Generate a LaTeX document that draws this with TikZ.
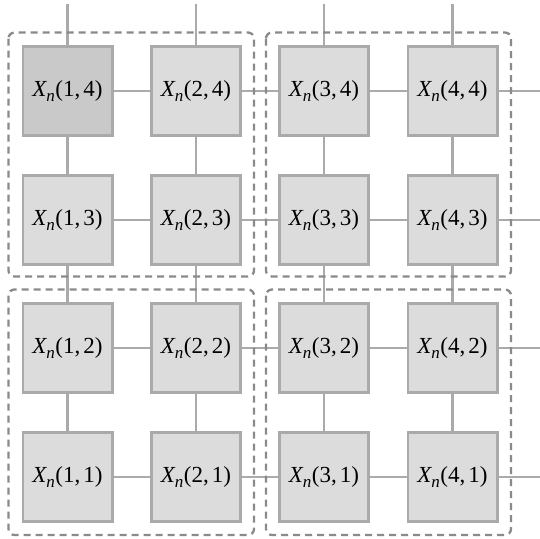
\documentclass[tikz,border=0pt]{standalone}
\usepackage{fontspec}
\setmainfont{Liberation Serif}
\definecolor{cellfill}{RGB}{220,220,220}
\definecolor{cellfilldark}{RGB}{201,201,201}
\definecolor{cellline}{RGB}{170,170,170}
\definecolor{groupline}{RGB}{138,138,138}
\newcommand{\xcell}[2]{\textit{X}\kern-0.8pt\raisebox{-0.25em}{\fontsize{17}{18}\selectfont\textit{n}}\kern0.5pt(#1,\kern3pt#2)}
\begin{document}
\begin{tikzpicture}[x=1pt,y=-1pt,
  cell/.style={draw=cellline, fill=cellfill, line width=2.6pt, minimum width=89.4pt,
    minimum height=89.4pt, inner sep=0pt, font=\fontsize{23}{27}\selectfont},
  link/.style={draw=cellline, line width=2.4pt},
  group/.style={draw=groupline, line width=2.3pt, rounded corners=6pt,
    dash pattern=on 7pt off 5pt}]
\useasboundingbox (0,0) rectangle (540,538);
% grid of cells: columns i=1..4, rows j=1..4 (j=4 on top)
\foreach \i/\x in {1/67.5,2/196,3/324,4/452.5}{
  \foreach \j/\y in {4/91,3/220,2/348,1/477}{
    \node[cell] (c\i\j) at (\x,\y) {\xcell{\i}{\j}};
  }
}
\node[cell, fill=cellfilldark] at (c14) {\xcell{1}{4}};
% free ends of the links leaving the grid
\foreach \i/\x in {1/67.5,2/196,3/324,4/452.5}
  \coordinate (top\i) at (\x,4);
\foreach \j/\y in {4/91,3/220,2/348,1/477}
  \coordinate (right\j) at (540,\y);
% links
\foreach \i in {1,2,3,4}{
  \draw[link] (top\i) -- (c\i4.north);
  \draw[link] (c\i4) -- (c\i3);
  \draw[link] (c\i3) -- (c\i2);
  \draw[link] (c\i2) -- (c\i1);
}
\foreach \j in {1,2,3,4}{
  \draw[link] (c1\j) -- (c2\j);
  \draw[link] (c2\j) -- (c3\j);
  \draw[link] (c3\j) -- (c4\j);
  \draw[link] (c4\j.east) -- (right\j);
}
% 2x2 blocks
\draw[group] (8.5,32.5) rectangle (254,276.5);
\draw[group] (266,32.5) rectangle (511,276.5);
\draw[group] (8.5,289.5) rectangle (254,535);
\draw[group] (266,289.5) rectangle (511,535);
\end{tikzpicture}
\end{document}
